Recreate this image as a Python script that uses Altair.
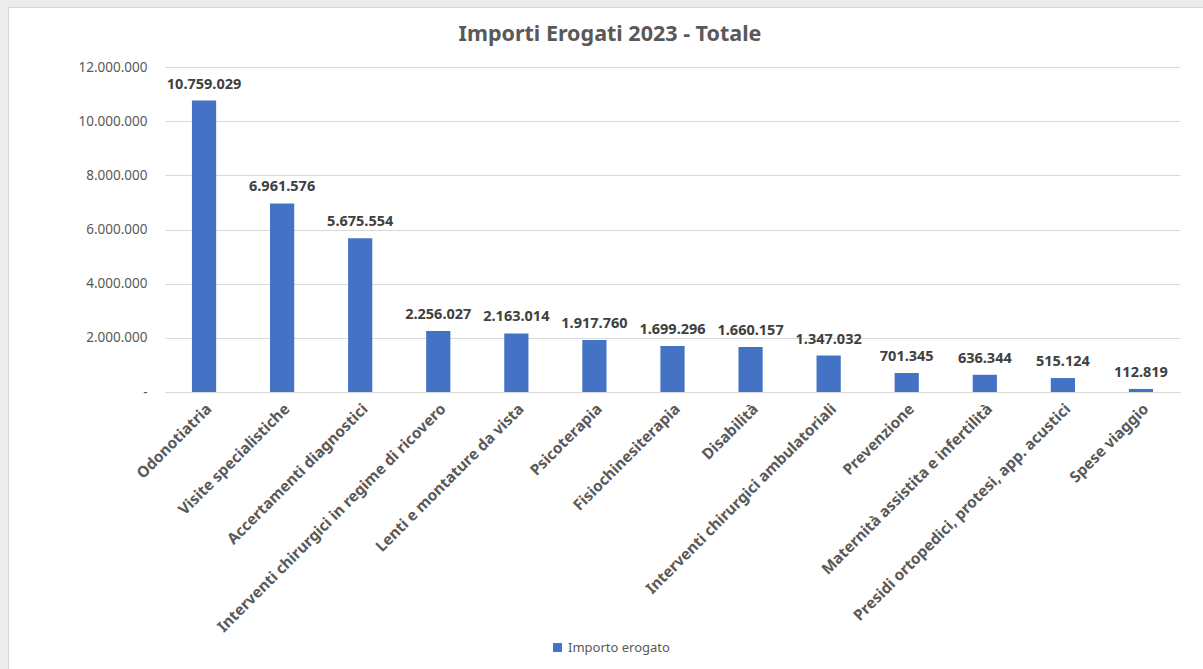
import altair as alt
import pandas as pd

categories = [
    "Odonotiatria", "Visite specialistiche", "Accertamenti diagnostici",
    "Interventi chirurgici in regime di ricovero", "Lenti e montature da vista",
    "Psicoterapia", "Fisiochinesiterapia", "Disabilità",
    "Interventi chirurgici ambulatoriali", "Prevenzione",
    "Maternità assistita e infertilità",
    "Presidi ortopedici, protesi, app. acustici", "Spese viaggio",
]
values = [10759029, 6961576, 5675554, 2256027, 2163014, 1917760, 1699296,
          1660157, 1347032, 701345, 636344, 515124, 112819]
series_name = "Importo erogato"
title_text = "Importi Erogati 2023 - Totale"

df = pd.DataFrame({"cat": categories, "val": values})
df["serie"] = series_name
df["label"] = [f"{v:,}".replace(",", ".") for v in values]

FONT = "Noto Sans"
GRAY = "#595959"
BLUE = "#4472C4"
STRIP = "#ececec"

W, H = 1015, 325
PL, PT = 165, 67

one = pd.DataFrame({"t": [title_text]})

top_strip = alt.Chart(one).mark_rect(fill=STRIP).encode(
    x=alt.value(-PL), x2=alt.value(1203 - PL),
    y=alt.value(-PT), y2=alt.value(7 - PT),
)
left_strip = alt.Chart(one).mark_rect(fill=STRIP).encode(
    x=alt.value(-PL), x2=alt.value(8 - PL),
    y=alt.value(-PT), y2=alt.value(669 - PT),
)
edge_top = alt.Chart(one).mark_rule(color="#d6d6d6", strokeWidth=1).encode(
    x=alt.value(8 - PL), x2=alt.value(1203 - PL),
    y=alt.value(7.5 - PT),
)
edge_left = alt.Chart(one).mark_rule(color="#d6d6d6", strokeWidth=1).encode(
    x=alt.value(8.5 - PL),
    y=alt.value(7 - PT), y2=alt.value(669 - PT),
)

title = alt.Chart(one).mark_text(fontSize=21.5, font=FONT, fontWeight="bold", color=GRAY,
                                 align="center", baseline="middle").encode(
    x=alt.value(610 - PL), y=alt.value(35 - PT), text="t:N")

base = alt.Chart(df)
x_enc = alt.X("cat:N", sort=categories, title=None,
              scale=alt.Scale(paddingInner=0.69, paddingOuter=0.345),
              axis=alt.Axis(labelAngle=-45, labelFontWeight="bold", labelFontSize=15.3,
                            labelColor=GRAY, labelFont=FONT, ticks=False,
                            domainColor="#d9d9d9", labelPadding=9, labelLimit=400))
y_enc = alt.Y("val:Q", title=None,
              scale=alt.Scale(domain=[0, 12000000]),
              axis=alt.Axis(values=[0, 2000000, 4000000, 6000000, 8000000, 10000000, 12000000],
                            labelExpr="datum.value == 0 ? '-' : replace(replace(format(datum.value, ',d'), ',', '.'), ',', '.')",
                            labelFontSize=13.5, labelColor=GRAY, labelFont=FONT,
                            ticks=False, domain=False, gridColor="#d9d9d9",
                            labelPadding=18))

bars = base.mark_bar(color=BLUE).encode(
    x=x_enc, y=y_enc,
    color=alt.Color("serie:N", scale=alt.Scale(range=[BLUE]),
                    legend=alt.Legend(title=None, orient="none", legendX=386, legendY=574,
                                      symbolType="square", symbolSize=80,
                                      labelFontSize=13, labelColor=GRAY, labelFont=FONT,
                                      symbolStrokeWidth=0)),
)
texts = base.mark_text(baseline="bottom", dy=-9, fontWeight="bold", fontSize=14.5,
                       color="#404040", font=FONT).encode(
    x=alt.X("cat:N", sort=categories), y="val:Q", text="label:N")

chart = alt.layer(top_strip, left_strip, edge_top, edge_left, title, bars, texts).properties(
    width=W, height=H,
    autosize=alt.AutoSizeParams(type="none"),
    padding={"left": PL, "top": PT, "right": 1203 - PL - W, "bottom": 669 - PT - H},
    background="white",
).configure_view(stroke=None)

chart.save("out.html", embed_options={"renderer": "svg", "actions": False})
